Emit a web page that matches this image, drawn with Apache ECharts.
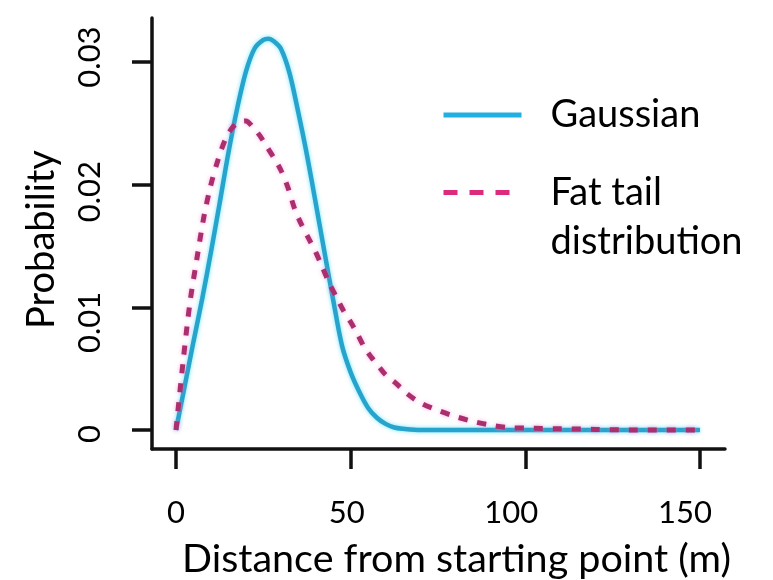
<!DOCTYPE html>
<html>
<head>
<meta charset="utf-8">
<title>Distance distribution</title>
<script src="https://cdn.jsdelivr.net/npm/echarts@6/dist/echarts.min.js"></script>
<style>
  html, body { margin: 0; padding: 0; background: #ffffff; }
  #chart { width: 773px; height: 580px; }
</style>
</head>
<body>
<div id="chart"></div>
<script>
// Gaussian movement kernel: distance (m) and probability
const gaussDist = [0, 2.5, 5, 7.5, 10, 12.5, 15, 17.5, 20, 22.5, 25, 26.5, 28, 30, 32.5, 35, 37.5, 40, 42.5, 45, 47.5, 50, 52.5, 55, 57.5, 60, 62.5, 65, 70, 80, 90, 100, 110, 120, 130, 140, 150];
const gaussProb = [0, 0.0036, 0.0072, 0.0107, 0.0145, 0.0185, 0.0226, 0.0262, 0.0292, 0.0311, 0.0318, 0.0319, 0.0317, 0.0311, 0.0291, 0.0259, 0.0224, 0.0185, 0.0145, 0.0106, 0.0069, 0.0047, 0.0031, 0.0018, 0.0010, 0.0005, 0.0002, 0.0001, 0, 0, 0, 0, 0, 0, 0, 0, 0];

// Fat-tailed movement kernel
const fatDist = [0, 2, 4, 6, 8, 10, 12, 14, 16, 18, 20, 22, 24, 26, 28, 30, 32, 34, 36, 38, 40, 42, 44, 46, 48, 50, 52, 54, 56, 58, 60, 63, 66, 70, 75, 80, 85, 90, 95, 100, 110, 120, 130, 140, 150];
const fatProb = [0, 0.0055, 0.0104, 0.0140, 0.0174, 0.0200, 0.0220, 0.0236, 0.0246, 0.0251, 0.0252, 0.0247, 0.0240, 0.0231, 0.0222, 0.0212, 0.0198, 0.0180, 0.0167, 0.0156, 0.0145, 0.0132, 0.0119, 0.0108, 0.0097, 0.0088, 0.0078, 0.0067, 0.0059, 0.0052, 0.0045, 0.0038, 0.0030, 0.0022, 0.0016, 0.0011, 0.0007, 0.0004, 0.0002, 0.00015, 0.0001, 0.00005, 0, 0, 0];

const distTicks = [0, 50, 100, 150];
const probTicks = [0, 0.01, 0.02, 0.03];

const seriesNames = ['Gaussian', 'Fat tail distribution'];

const zip = (xs, ys) => xs.map((x, i) => [x, ys[i]]);

const FONT = 'Lato';
const TICK_FONT = { fontFamily: FONT, fontSize: 31, color: '#000' };

// Small hand-set nudges for individual tick labels (rich text padding)
const xLabelRich = {
  d0: Object.assign({}, TICK_FONT),
  d50: Object.assign({ padding: [0, 8, 0, 0] }, TICK_FONT),
  d100: Object.assign({ padding: [0, 28, 0, 0] }, TICK_FONT),
  d150: Object.assign({ padding: [0, 30, 0, 0] }, TICK_FONT)
};
const yLabelRich = {
  p0: Object.assign({ padding: [0, 8, 0, 0] }, TICK_FONT),
  p1: Object.assign({ padding: [0, 30, 0, 0] }, TICK_FONT),
  p2: Object.assign({ padding: [0, 14, 0, 0] }, TICK_FONT),
  p3: Object.assign({ padding: [0, 0, 0, 10] }, TICK_FONT)
};

const chart = echarts.init(document.getElementById('chart'), null, { renderer: 'canvas' });

const axisLine = { show: true, onZero: false, lineStyle: { color: '#111', width: 3.5 } };
const axisTick = { show: true, length: 20, lineStyle: { color: '#111', width: 3.5 } };

chart.setOption({
  backgroundColor: '#ffffff',
  animation: false,
  grid: { left: 152, right: 48, top: 18, bottom: 131, containLabel: false, outerBoundsMode: 'none' },
  xAxis: {
    type: 'value',
    min: -6.87,
    max: 157.16,
    name: 'Distance from starting point (m)',
    nameLocation: 'middle',
    nameGap: 90,
    nameTextStyle: { fontFamily: FONT, fontSize: 39.5, color: '#000', padding: [0, 0, 0, 36] },
    axisLine: axisLine,
    axisTick: Object.assign({ customValues: distTicks }, axisTick),
    axisLabel: {
      customValues: distTicks,
      margin: 48,
      fontFamily: FONT, fontSize: 31, color: '#000',
      formatter: (v) => '{d' + v + '|' + v + '}',
      rich: xLabelRich
    },
    splitLine: { show: false }
  },
  yAxis: {
    type: 'value',
    min: -0.00155,
    max: 0.03359,
    name: 'Probability',
    nameLocation: 'middle',
    nameGap: 91,
    nameTextStyle: { fontFamily: FONT, fontSize: 38, color: '#000', padding: [0, 12, 0, 0] },
    axisLine: axisLine,
    axisTick: Object.assign({ customValues: probTicks }, axisTick),
    axisLabel: {
      customValues: probTicks,
      rotate: 90,
      margin: 47,
      fontFamily: FONT, fontSize: 31, color: '#000',
      formatter: (v) => '{p' + Math.round(v * 100) + '|' + (v === 0 ? '0' : v.toFixed(2)) + '}',
      rich: yLabelRich
    },
    splitLine: { show: false }
  },
  legend: [
    {
      orient: 'vertical',
      left: 436,
      top: 86,
      itemWidth: 78,
      itemHeight: 6,
      data: [{ name: seriesNames[0], itemStyle: { opacity: 0 }, lineStyle: { color: '#22b0e2', width: 5, type: 'solid' } }],
      textStyle: { fontFamily: FONT, fontSize: 38, color: '#000', lineHeight: 48, padding: [0, 0, 0, 24] }
    },
    {
      orient: 'vertical',
      left: 436,
      top: 114,
      itemWidth: 70,
      itemHeight: 6,
      data: [{ name: seriesNames[1], itemStyle: { opacity: 0 }, lineStyle: { color: '#dc2a7c', width: 5, type: [14, 12] } }],
      // leading blank line keeps the marker level with "Fat tail"
      formatter: (name) => '\n' + name.replace(' distribution', '\ndistribution'),
      textStyle: { fontFamily: FONT, fontSize: 38, color: '#000', lineHeight: 49, padding: [0, 0, 0, 32] }
    }
  ],
  series: [
    {
      name: seriesNames[0],
      type: 'line',
      data: zip(gaussDist, gaussProb),
      smooth: 0.3,
      showSymbol: false,
      symbol: 'none',
      z: 3,
      lineStyle: { color: '#27a4cc', width: 4.5, shadowBlur: 4, shadowColor: 'rgba(60,215,255,0.7)' }
    },
    {
      name: seriesNames[1],
      type: 'line',
      data: zip(fatDist, fatProb),
      smooth: 0.3,
      showSymbol: false,
      symbol: 'none',
      z: 4,
      lineStyle: { color: '#ab2f6e', width: 5, type: [9, 10], shadowBlur: 4, shadowColor: 'rgba(255,120,200,0.6)' }
    }
  ]
});
</script>
</body>
</html>
